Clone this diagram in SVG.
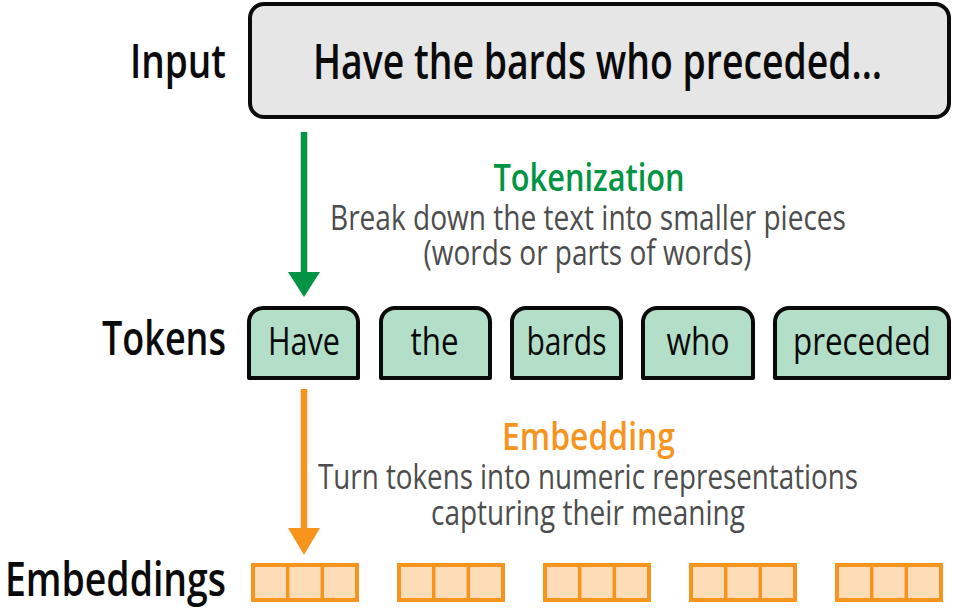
<svg xmlns="http://www.w3.org/2000/svg" width="953" height="611" viewBox="0 0 953 611">
<style>
  text { font-family: "Open Sans", "Noto Sans", "Liberation Sans", sans-serif; }
  .lbl { font-size: 47px; font-weight: 600; fill: #0a0a0a; text-anchor: end; }
  .main { font-size: 48px; font-weight: 600; fill: #0a0a0a; text-anchor: middle; }
  .tok { font-size: 38px; font-weight: 400; fill: #0a0a0a; text-anchor: middle; }
  .head-g { font-size: 38px; font-weight: 600; fill: #009444; text-anchor: middle; }
  .head-o { font-size: 38px; font-weight: 600; fill: #F7941D; text-anchor: middle; }
  .desc { font-size: 35px; font-weight: 400; fill: #4d4d4d; text-anchor: middle; }
  .inbox { fill: #e6e6e6; stroke: #0a0a0a; stroke-width: 4; }
  .tokbox { fill: #b3dec8; stroke: #0a0a0a; stroke-width: 4; stroke-linejoin: round; }
  .emb { fill: #fddcb8; stroke: #F7941D; stroke-width: 4; }
  .cell { stroke: #F7941D; stroke-width: 3.5; }
</style>

<g id="labels">
  <text class="lbl" x="226" y="78" textLength="96" lengthAdjust="spacingAndGlyphs">Input</text>
  <text class="lbl" x="226" y="355" textLength="124" lengthAdjust="spacingAndGlyphs">Tokens</text>
  <text class="lbl" x="226" y="596" textLength="221" lengthAdjust="spacingAndGlyphs">Embeddings</text>
</g>

<g id="input">
  <rect class="inbox" x="250" y="4" width="699" height="113" rx="14"/>
  <text class="main" x="597.5" y="79" textLength="569" lengthAdjust="spacingAndGlyphs">Have the bards who preceded…</text>
</g>

<g id="token-have">
  <path class="tokbox" d="M249 378 V322 A14 14 0 0 1 263 308 H344 A14 14 0 0 1 358 322 V378 Z"/>
  <text class="tok" x="304" y="355" textLength="72" lengthAdjust="spacingAndGlyphs">Have</text>
</g>
<g id="token-the">
  <path class="tokbox" d="M381 378 V322 A14 14 0 0 1 395 308 H476 A14 14 0 0 1 490 322 V378 Z"/>
  <text class="tok" x="434.5" y="355" textLength="48" lengthAdjust="spacingAndGlyphs">the</text>
</g>
<g id="token-bards">
  <path class="tokbox" d="M512 378 V322 A14 14 0 0 1 526 308 H607 A14 14 0 0 1 621 322 V378 Z"/>
  <text class="tok" x="566.5" y="355" textLength="80" lengthAdjust="spacingAndGlyphs">bards</text>
</g>
<g id="token-who">
  <path class="tokbox" d="M643 378 V322 A14 14 0 0 1 657 308 H739 A14 14 0 0 1 753 322 V378 Z"/>
  <text class="tok" x="698" y="355" textLength="63" lengthAdjust="spacingAndGlyphs">who</text>
</g>
<g id="token-preceded">
  <path class="tokbox" d="M775 378 V322 A14 14 0 0 1 789 308 H935 A14 14 0 0 1 949 322 V378 Z"/>
  <text class="tok" x="862" y="355" textLength="138" lengthAdjust="spacingAndGlyphs">preceded</text>
</g>

<g id="emb-1">
  <rect class="emb" x="253" y="565" width="104" height="35"/>
  <line class="cell" x1="287.7" y1="565" x2="287.7" y2="600"/>
  <line class="cell" x1="322.3" y1="565" x2="322.3" y2="600"/>
</g>
<g id="emb-2">
  <rect class="emb" x="399" y="565" width="104" height="35"/>
  <line class="cell" x1="433.7" y1="565" x2="433.7" y2="600"/>
  <line class="cell" x1="468.3" y1="565" x2="468.3" y2="600"/>
</g>
<g id="emb-3">
  <rect class="emb" x="545" y="565" width="104" height="35"/>
  <line class="cell" x1="579.7" y1="565" x2="579.7" y2="600"/>
  <line class="cell" x1="614.3" y1="565" x2="614.3" y2="600"/>
</g>
<g id="emb-4">
  <rect class="emb" x="691" y="565" width="104" height="35"/>
  <line class="cell" x1="725.7" y1="565" x2="725.7" y2="600"/>
  <line class="cell" x1="760.3" y1="565" x2="760.3" y2="600"/>
</g>
<g id="emb-5">
  <rect class="emb" x="837" y="565" width="104" height="35"/>
  <line class="cell" x1="871.7" y1="565" x2="871.7" y2="600"/>
  <line class="cell" x1="906.3" y1="565" x2="906.3" y2="600"/>
</g>

<g id="connectors">
  <line x1="304" y1="132" x2="304" y2="274" stroke="#009444" stroke-width="6.5"/>
  <polygon points="288,272 320,272 304,297" fill="#009444"/>
  <line x1="304" y1="389" x2="304" y2="530" stroke="#F7941D" stroke-width="6.5"/>
  <polygon points="288,528 320,528 304,555" fill="#F7941D"/>
</g>

<g id="step-labels">
  <text class="head-g" x="589" y="191" textLength="191" lengthAdjust="spacingAndGlyphs">Tokenization</text>
  <text class="desc" x="588" y="230" textLength="516" lengthAdjust="spacingAndGlyphs">Break down the text into smaller pieces</text>
  <text class="desc" x="587.5" y="265" textLength="328" lengthAdjust="spacingAndGlyphs">(words or parts of words)</text>
  <text class="head-o" x="588.5" y="450" textLength="173" lengthAdjust="spacingAndGlyphs">Embedding</text>
  <text class="desc" x="588" y="489" textLength="540" lengthAdjust="spacingAndGlyphs">Turn tokens into numeric representations</text>
  <text class="desc" x="588" y="525" textLength="314" lengthAdjust="spacingAndGlyphs">capturing their meaning</text>
</g>
</svg>
